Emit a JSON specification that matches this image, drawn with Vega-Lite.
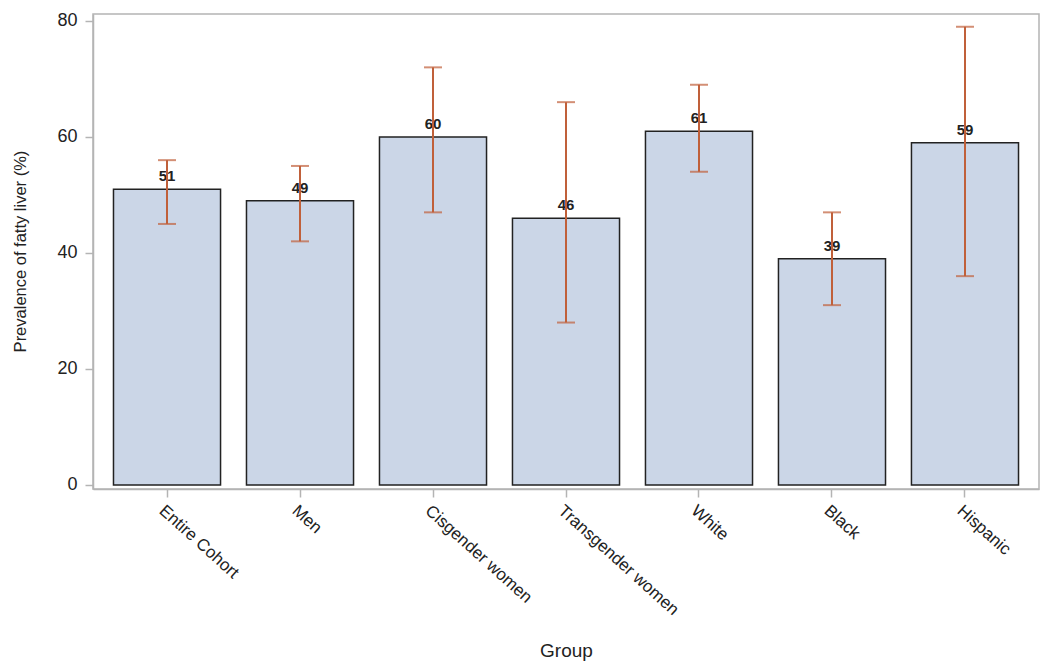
{
  "$schema": "https://vega.github.io/schema/vega-lite/v6.json",
  "autosize": "none",
  "width": 946,
  "height": 475,
  "padding": {"left": 93, "top": 14, "right": 11, "bottom": 180},
  "background": "white",
  "config": {
    "view": {"stroke": "#B4B4B4", "strokeWidth": 1.5},
    "font": "Liberation Sans",
    "axis": {
      "domainColor": "#B4B4B4",
      "domainWidth": 1.5,
      "tickColor": "#B4B4B4",
      "tickSize": 8,
      "tickWidth": 1.5,
      "labelFont": "Liberation Sans",
      "labelFontSize": 18,
      "labelColor": "#222222",
      "titleFont": "Liberation Sans",
      "titleFontSize": 19,
      "titleFontWeight": "normal",
      "titleColor": "#222222",
      "grid": false
    }
  },
  "data": {
    "values": [
      {"group": "Entire Cohort", "value": 51, "lo": 45, "hi": 56},
      {"group": "Men", "value": 49, "lo": 42, "hi": 55},
      {"group": "Cisgender women", "value": 60, "lo": 47, "hi": 72},
      {"group": "Transgender women", "value": 46, "lo": 28, "hi": 66},
      {"group": "White", "value": 61, "lo": 54, "hi": 69},
      {"group": "Black", "value": 39, "lo": 31, "hi": 47},
      {"group": "Hispanic", "value": 59, "lo": 36, "hi": 79}
    ]
  },
  "encoding": {
    "x": {
      "field": "group",
      "type": "nominal",
      "sort": null,
      "scale": {"paddingInner": 0.195, "paddingOuter": 0.154},
      "axis": {"title": "Group", "labelAngle": 42, "labelFontSize": 17, "labelPadding": 5, "titleY": 152, "titleBaseline": "top"}
    }
  },
  "layer": [
    {
      "mark": {"type": "bar", "fill": "#CBD6E7", "stroke": "#222222", "strokeWidth": 1.5},
      "encoding": {
        "y": {
          "field": "value",
          "type": "quantitative",
          "scale": {"domain": [-0.7, 81.2], "nice": false, "zero": false},
          "axis": {"title": "Prevalence of fatty liver (%)", "values": [0, 20, 40, 60, 80], "labelPadding": 8, "titleFontSize": 16.5, "titleX": -73, "titleY": 237, "titleAlign": "center", "titleBaseline": "middle", "titleAngle": -90}
        }
      }
    },
    {
      "mark": {"type": "text", "baseline": "bottom", "dy": -5, "fontSize": 15, "fontWeight": 600, "color": "#222222", "font": "Liberation Sans"},
      "encoding": {
        "y": {"field": "value", "type": "quantitative"},
        "text": {"field": "value", "type": "quantitative"}
      }
    },
    {
      "mark": {"type": "rule", "color": "#C0603A", "strokeWidth": 2},
      "encoding": {
        "y": {"field": "lo", "type": "quantitative"},
        "y2": {"field": "hi"}
      }
    },
    {
      "mark": {"type": "tick", "orient": "horizontal", "color": "#C0603A", "size": 18, "thickness": 2},
      "encoding": {
        "y": {"field": "lo", "type": "quantitative"}
      }
    },
    {
      "mark": {"type": "tick", "orient": "horizontal", "color": "#C0603A", "size": 18, "thickness": 2},
      "encoding": {
        "y": {"field": "hi", "type": "quantitative"}
      }
    }
  ]
}
